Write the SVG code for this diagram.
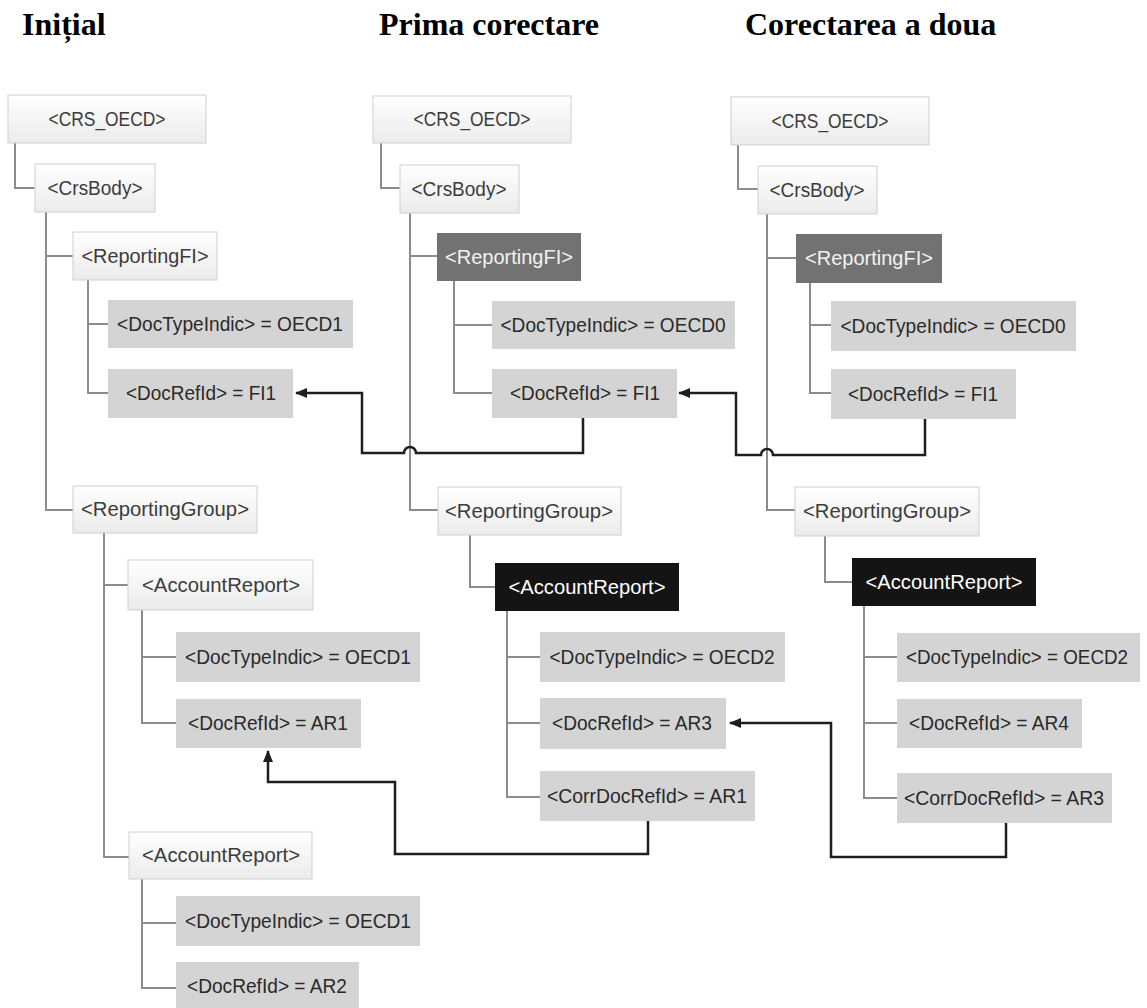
<svg xmlns="http://www.w3.org/2000/svg" width="1147" height="1008" viewBox="0 0 1147 1008">
<defs>
<linearGradient id="lg" x1="0" y1="0" x2="0" y2="1">
<stop offset="0" stop-color="#ffffff"/>
<stop offset="1" stop-color="#ebebeb"/>
</linearGradient>
<marker id="ah" viewBox="0 0 12 10" refX="11" refY="5" markerWidth="12" markerHeight="10" markerUnits="userSpaceOnUse" orient="auto">
<path d="M0,0 L12,5 L0,10 z" fill="#1e1e1e"/>
</marker>
</defs>
<style>
.title{font-family:"Liberation Serif","Times New Roman",serif;font-weight:bold;font-size:32px;fill:#000}
.light rect{fill:url(#lg);stroke:#cfcfcf;stroke-width:1}
.light text{fill:#3c3c3c}
.gray rect{fill:#d4d4d4}
.gray text{fill:#2a2a2a}
.dark rect{fill:#727272}
.dark text{fill:#f2f2f2}
.black rect{fill:#141414}
.black text{fill:#ffffff}
text.l{font-family:"Liberation Sans",Arial,sans-serif;font-size:21px;text-anchor:middle}
text.s{font-size:20px}
.tree path{fill:none;stroke:#8c8c8c;stroke-width:2}
.ref path{fill:none;stroke:#1e1e1e;stroke-width:2.5;marker-end:url(#ah)}
</style>
<rect width="1147" height="1008" fill="#ffffff"/>
<text class="title" x="22" y="35">Inițial</text>
<text class="title" x="379" y="35">Prima corectare</text>
<text class="title" x="745" y="35">Corectarea a doua</text>

<g id="tree-lines" class="tree">
<path d="M15 143 V188 H35"/>
<path d="M46 212 V510 H73 M46 256 H73"/>
<path d="M88 280 V393 H108 M88 324 H108"/>
<path d="M104 533 V857 H129 M104 585 H128"/>
<path d="M142 610 V723 H176 M142 657 H176"/>
<path d="M142 879 V988 H176 M142 923 H176"/>
<path d="M381 143 V188 H400"/>
<path d="M410 213 V510 H438 M410 256 H437"/>
<path d="M454 281 V393 H492 M454 325 H492"/>
<path d="M470 535 V587 H495"/>
<path d="M507 611 V797 H540 M507 657 H540 M507 723 H540"/>
<path d="M738 145 V189 H758"/>
<path d="M767 214 V510 H795 M767 258 H796"/>
<path d="M810 283 V393 H831 M810 325 H831"/>
<path d="M825 536 V582 H852"/>
<path d="M864 606 V798 H897 M864 657 H897 M864 723 H897"/>
</g>

<g id="connectors" class="ref">
<path d="M583 418 V453 H416 A6 6 0 0 0 404 453 H362 V393 H296"/>
<path d="M925 419 V455 H773 A6 6 0 0 0 761 455 H736 V393 H679"/>
<path d="M648 821 V854 H395 V782 H268 V751"/>
<path d="M1006 823 V857 H831 V723 H730"/>
</g>

<g id="c1-crs" class="light"><rect x="8" y="95" width="198" height="48"/><text class="l" x="107" y="126" textLength="117" lengthAdjust="spacingAndGlyphs">&lt;CRS_OECD&gt;</text></g>
<g id="c1-body" class="light"><rect x="35" y="164" width="120" height="48"/><text class="l" x="95" y="195" textLength="95" lengthAdjust="spacingAndGlyphs">&lt;CrsBody&gt;</text></g>
<g id="c1-rfi" class="light"><rect x="73" y="232" width="144" height="48"/><text class="l" x="145" y="263" textLength="127" lengthAdjust="spacingAndGlyphs">&lt;ReportingFI&gt;</text></g>
<g id="c1-dti" class="gray"><rect x="108" y="300" width="245" height="48"/><text class="l" x="230" y="331" textLength="226" lengthAdjust="spacingAndGlyphs">&lt;DocTypeIndic&gt; = OECD1</text></g>
<g id="c1-dri" class="gray"><rect x="108" y="369" width="185" height="49"/><text class="l" x="201" y="400" textLength="150" lengthAdjust="spacingAndGlyphs">&lt;DocRefId&gt; = FI1</text></g>
<g id="c1-rg" class="light"><rect x="73" y="486" width="184" height="47"/><text class="l" x="165" y="516" textLength="168" lengthAdjust="spacingAndGlyphs">&lt;ReportingGroup&gt;</text></g>
<g id="c1-ar1" class="light"><rect x="128" y="560" width="185" height="50"/><text class="l" x="221" y="592" textLength="158" lengthAdjust="spacingAndGlyphs">&lt;AccountReport&gt;</text></g>
<g id="c1-ar1-dti" class="gray"><rect x="176" y="632" width="244" height="50"/><text class="l" x="298" y="664" textLength="226" lengthAdjust="spacingAndGlyphs">&lt;DocTypeIndic&gt; = OECD1</text></g>
<g id="c1-ar1-dri" class="gray"><rect x="176" y="699" width="185" height="49"/><text class="l" x="268" y="730" textLength="160" lengthAdjust="spacingAndGlyphs">&lt;DocRefId&gt; = AR1</text></g>
<g id="c1-ar2" class="light"><rect x="129" y="832" width="183" height="47"/><text class="l" x="221" y="862" textLength="158" lengthAdjust="spacingAndGlyphs">&lt;AccountReport&gt;</text></g>
<g id="c1-ar2-dti" class="gray"><rect x="176" y="896" width="244" height="50"/><text class="l" x="298" y="928" textLength="226" lengthAdjust="spacingAndGlyphs">&lt;DocTypeIndic&gt; = OECD1</text></g>
<g id="c1-ar2-dri" class="gray"><rect x="176" y="962" width="183" height="47"/><text class="l" x="267" y="993" textLength="160" lengthAdjust="spacingAndGlyphs">&lt;DocRefId&gt; = AR2</text></g>

<g id="c2-crs" class="light"><rect x="373" y="96" width="198" height="47"/><text class="l" x="472" y="126" textLength="117" lengthAdjust="spacingAndGlyphs">&lt;CRS_OECD&gt;</text></g>
<g id="c2-body" class="light"><rect x="400" y="165" width="119" height="48"/><text class="l" x="459" y="196" textLength="95" lengthAdjust="spacingAndGlyphs">&lt;CrsBody&gt;</text></g>
<g id="c2-rfi" class="dark"><rect x="437" y="233" width="144" height="48"/><text class="l" x="509" y="264" textLength="128" lengthAdjust="spacingAndGlyphs">&lt;ReportingFI&gt;</text></g>
<g id="c2-dti" class="gray"><rect x="492" y="301" width="243" height="48"/><text class="l" x="613" y="332" textLength="225" lengthAdjust="spacingAndGlyphs">&lt;DocTypeIndic&gt; = OECD0</text></g>
<g id="c2-dri" class="gray"><rect x="492" y="369" width="185" height="49"/><text class="l" x="585" y="400" textLength="150" lengthAdjust="spacingAndGlyphs">&lt;DocRefId&gt; = FI1</text></g>
<g id="c2-rg" class="light"><rect x="438" y="487" width="183" height="48"/><text class="l" x="529" y="518" textLength="168" lengthAdjust="spacingAndGlyphs">&lt;ReportingGroup&gt;</text></g>
<g id="c2-ar" class="black"><rect x="495" y="563" width="184" height="48"/><text class="l" x="587" y="594" textLength="157" lengthAdjust="spacingAndGlyphs">&lt;AccountReport&gt;</text></g>
<g id="c2-ar-dti" class="gray"><rect x="540" y="632" width="245" height="50"/><text class="l" x="662" y="664" textLength="225" lengthAdjust="spacingAndGlyphs">&lt;DocTypeIndic&gt; = OECD2</text></g>
<g id="c2-ar-dri" class="gray"><rect x="540" y="698" width="186" height="51"/><text class="l" x="632" y="730" textLength="160" lengthAdjust="spacingAndGlyphs">&lt;DocRefId&gt; = AR3</text></g>
<g id="c2-ar-cdr" class="gray"><rect x="540" y="771" width="215" height="50"/><text class="l" x="647" y="803" textLength="200" lengthAdjust="spacingAndGlyphs">&lt;CorrDocRefId&gt; = AR1</text></g>

<g id="c3-crs" class="light"><rect x="731" y="97" width="198" height="48"/><text class="l" x="830" y="128" textLength="117" lengthAdjust="spacingAndGlyphs">&lt;CRS_OECD&gt;</text></g>
<g id="c3-body" class="light"><rect x="758" y="166" width="119" height="48"/><text class="l" x="817" y="197" textLength="95" lengthAdjust="spacingAndGlyphs">&lt;CrsBody&gt;</text></g>
<g id="c3-rfi" class="dark"><rect x="796" y="234" width="146" height="49"/><text class="l" x="869" y="265" textLength="128" lengthAdjust="spacingAndGlyphs">&lt;ReportingFI&gt;</text></g>
<g id="c3-dti" class="gray"><rect x="831" y="301" width="245" height="50"/><text class="l" x="953" y="333" textLength="225" lengthAdjust="spacingAndGlyphs">&lt;DocTypeIndic&gt; = OECD0</text></g>
<g id="c3-dri" class="gray"><rect x="831" y="369" width="185" height="50"/><text class="l" x="923" y="401" textLength="150" lengthAdjust="spacingAndGlyphs">&lt;DocRefId&gt; = FI1</text></g>
<g id="c3-rg" class="light"><rect x="795" y="487" width="184" height="49"/><text class="l" x="887" y="518" textLength="168" lengthAdjust="spacingAndGlyphs">&lt;ReportingGroup&gt;</text></g>
<g id="c3-ar" class="black"><rect x="852" y="558" width="184" height="48"/><text class="l" x="944" y="589" textLength="157" lengthAdjust="spacingAndGlyphs">&lt;AccountReport&gt;</text></g>
<g id="c3-ar-dti" class="gray"><rect x="897" y="633" width="243" height="49"/><text class="l s" x="1017" y="664" textLength="222" lengthAdjust="spacingAndGlyphs">&lt;DocTypeIndic&gt; = OECD2</text></g>
<g id="c3-ar-dri" class="gray"><rect x="897" y="699" width="185" height="49"/><text class="l" x="989" y="730" textLength="160" lengthAdjust="spacingAndGlyphs">&lt;DocRefId&gt; = AR4</text></g>
<g id="c3-ar-cdr" class="gray"><rect x="897" y="773" width="215" height="50"/><text class="l" x="1004" y="805" textLength="200" lengthAdjust="spacingAndGlyphs">&lt;CorrDocRefId&gt; = AR3</text></g>
</svg>
